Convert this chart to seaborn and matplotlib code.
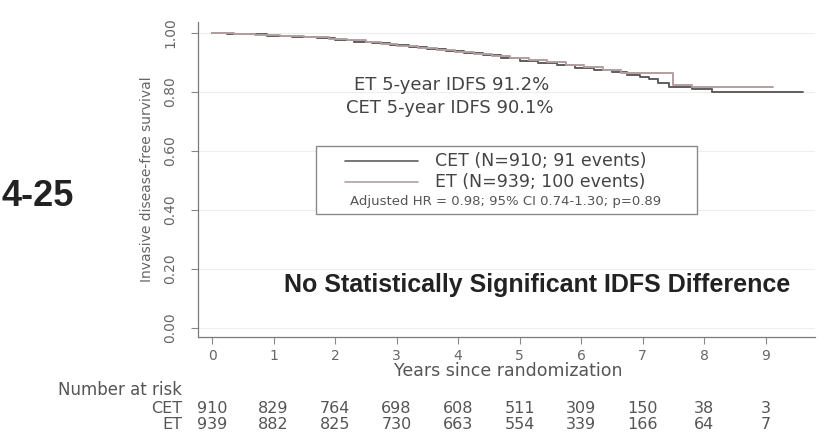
import pandas as pd
import matplotlib.pyplot as plt
import matplotlib.transforms as mtransforms
from matplotlib.patches import Rectangle
from matplotlib.lines import Line2D
import seaborn as sns

# Kaplan-Meier step points
cet_years = [0, 0.25, 0.55, 0.9, 1.3, 1.7, 2.0, 2.3, 2.6, 2.9, 3.2, 3.5, 3.8, 4.1, 4.4,
             4.7, 5.0, 5.3, 5.6, 5.9, 6.2, 6.5, 6.75, 6.95, 7.1, 7.25, 7.42, 7.8, 8.12, 9.6]
cet_surv = [1.0, 0.997, 0.994, 0.99, 0.986, 0.981, 0.976, 0.970, 0.964, 0.958, 0.951, 0.944,
            0.937, 0.930, 0.923, 0.915, 0.903, 0.897, 0.890, 0.882, 0.874, 0.866, 0.858,
            0.850, 0.843, 0.831, 0.815, 0.810, 0.798, 0.798]
et_years = [0, 0.35, 0.7, 1.1, 1.5, 1.9, 2.2, 2.5, 2.75, 3.0, 3.35, 3.65, 3.95, 4.25, 4.55,
            4.85, 5.15, 5.45, 5.75, 6.05, 6.35, 6.65, 7.49, 7.8, 9.12]
et_surv = [1.0, 0.996, 0.992, 0.988, 0.984, 0.979, 0.974, 0.967, 0.960, 0.956, 0.949, 0.942,
           0.935, 0.928, 0.920, 0.914, 0.908, 0.900, 0.892, 0.884, 0.875, 0.864, 0.824,
           0.815, 0.815]

risk_years = list(range(10))
cet_risk = [910, 829, 764, 698, 608, 511, 309, 150, 38, 3]
et_risk = [939, 882, 825, 730, 663, 554, 339, 166, 64, 7]

arms = ["CET", "ET"]
legend_labels = ["CET (N=910; 91 events)", "ET (N=939; 100 events)"]
arm_colors = {"CET": "#5e5e5e", "ET": "#b39f9f"}

df = pd.concat([
    pd.DataFrame({"years": cet_years, "surv": cet_surv, "arm": "CET"}),
    pd.DataFrame({"years": et_years, "surv": et_surv, "arm": "ET"}),
])

sns.set_theme(style="white")
plt.rcParams["font.family"] = ["DejaVu Sans"]

fig = plt.figure(figsize=(8.23, 4.40), dpi=100)
ax = fig.add_axes([198 / 823, 1 - 336.7 / 440, 617 / 823, (336.7 - 22) / 440])

for arm in arms:
    sns.lineplot(data=df[df["arm"] == arm], x="years", y="surv", color=arm_colors[arm],
                 drawstyle="steps-post", estimator=None, lw=1.4, ax=ax, legend=False)

ax.set_xlim(-0.228, 9.8)
ax.set_ylim(-0.029, 1.036)
ax.set_xticks(risk_years)
ax.set_yticks([0, 0.2, 0.4, 0.6, 0.8, 1.0])
ax.set_yticklabels([f"{v:.2f}" for v in [0, 0.2, 0.4, 0.6, 0.8, 1.0]])
ax.yaxis.grid(True, color="#eeeeee", lw=0.8)
ax.xaxis.grid(False)
for s in ["top", "right"]:
    ax.spines[s].set_visible(False)
for s in ["left", "bottom"]:
    ax.spines[s].set_color("#7a7a7a")
    ax.spines[s].set_linewidth(0.9)
ax.tick_params(axis="both", which="major", length=5, width=0.8, color="#888888",
               labelcolor="#666666", labelsize=10, left=True, bottom=True)
ax.tick_params(axis="y", labelrotation=90, pad=10)
ax.tick_params(axis="x", pad=4)
for lab in ax.get_yticklabels():
    lab.set_va("center")
ax.set_xlabel("")
ax.set_ylabel("")

ax.text(-0.082, 0.5, "Invasive disease-free survival", transform=ax.transAxes,
        rotation=90, ha="center", va="center", fontsize=10, color="#666666")

# annotations
fig.text(452 / 823, 1 - 85 / 440, "ET 5-year IDFS 91.2%", ha="center", va="center",
         fontsize=13, color="#444444")
fig.text(450 / 823, 1 - 108 / 440, "CET 5-year IDFS 90.1%", ha="center", va="center",
         fontsize=13, color="#444444")

# legend box
box = Rectangle((316 / 823, 1 - 214 / 440), (697 - 316) / 823, (214 - 146) / 440,
                transform=fig.transFigure, fill=True, facecolor="white",
                edgecolor="#8a8a8a", lw=1.0, zorder=3)
fig.patches.append(box)
for i, (arm, lab) in enumerate(zip(arms, legend_labels)):
    yy = 1 - (161 + 21 * i) / 440
    fig.lines.append(Line2D([345 / 823, 418 / 823], [yy, yy], transform=fig.transFigure,
                            color=arm_colors[arm], lw=1.2, zorder=4))
    fig.text(435 / 823, yy, lab, ha="left", va="center", fontsize=12.5, color="#444444",
             zorder=4)
fig.text(506 / 823, 1 - 201 / 440, "Adjusted HR = 0.98; 95% CI 0.74-1.30; p=0.89",
         ha="center", va="center", fontsize=9.5, color="#555555", zorder=4)

fig.text(537 / 823, 1 - 285 / 440, "No Statistically Significant IDFS Difference",
         ha="center", va="center", fontsize=18, fontweight="bold",
         family=["Liberation Sans", "DejaVu Sans"], color="#222222")

fig.text(1 / 823, 1 - 196 / 440, "4-25", ha="left", va="center", fontsize=26,
         fontweight="bold", family=["Liberation Sans", "DejaVu Sans"], color="#222222")

# x label and number at risk table
fig.text(508 / 823, 1 - 371 / 440, "Years since randomization", ha="center", va="center",
         fontsize=12.5, color="#555555")
fig.text(182 / 823, 1 - 390 / 440, "Number at risk", ha="right", va="center",
         fontsize=12, color="#555555")
trans = mtransforms.blended_transform_factory(ax.transData, fig.transFigure)
for arm, counts, ypx in [("CET", cet_risk, 408), ("ET", et_risk, 424)]:
    fig.text(182 / 823, 1 - ypx / 440, arm, ha="right", va="center", fontsize=11.5,
             color="#555555")
    for yr, n in zip(risk_years, counts):
        ax.text(yr, 1 - ypx / 440, str(n), transform=trans, ha="center", va="center",
                fontsize=11.5, color="#555555", clip_on=False)

fig.savefig("out.png", dpi=100, facecolor="white")
